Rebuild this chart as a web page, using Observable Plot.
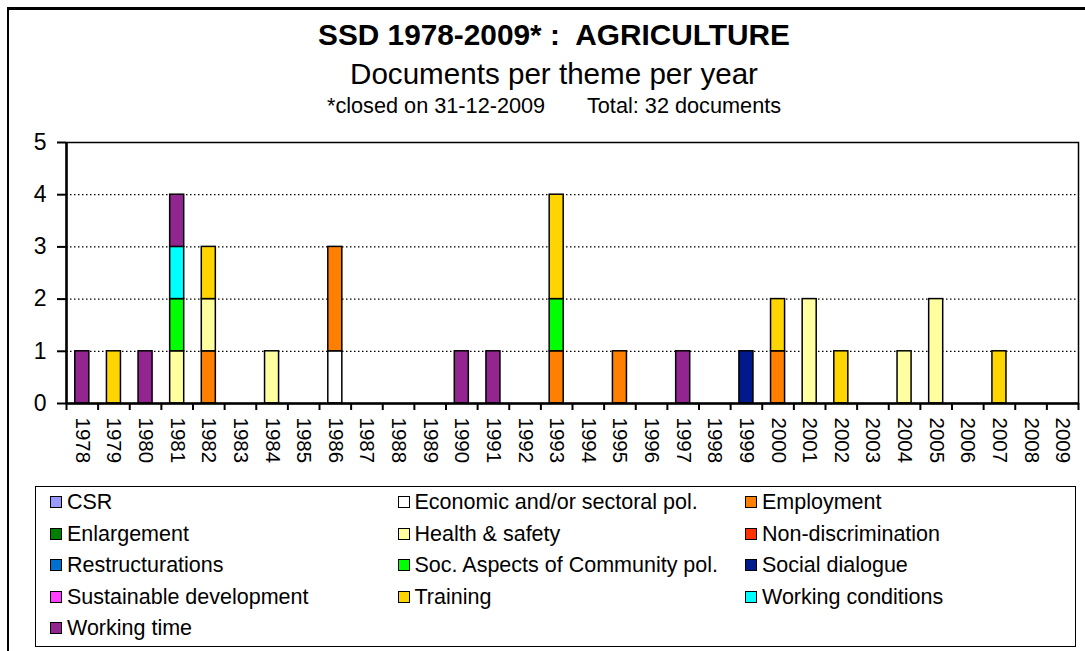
<!DOCTYPE html>
<html>
<head>
<meta charset="utf-8">
<script src="https://cdn.jsdelivr.net/npm/d3@7"></script>
<script src="https://cdn.jsdelivr.net/npm/@observablehq/plot@0.6"></script>
<style>
  html, body { margin: 0; padding: 0; background: #fff; }
  #wrap { position: relative; width: 1085px; height: 651px; overflow: hidden; font-family: "Liberation Sans", Arial, sans-serif; color: #000; }
  #outer { position: absolute; left: 7px; top: 7px; width: 1200px; height: 700px; border-left: 2px solid #000; border-top: 3px solid #000; }
  .t { position: absolute; left: 0; width: 1108px; text-align: center; white-space: pre; }
  #title { top: 19px; font-size: 29.8px; font-weight: bold; line-height: 32px; }
  #sub { top: 58px; font-size: 29.6px; line-height: 32px; }
  #note { top: 94px; font-size: 21.7px; line-height: 24px; }
  #chart { position: absolute; left: 0; top: 0; }
  #legend { position: absolute; left: 35px; top: 486px; width: 1039px; height: 159px; border: 1.5px solid #000; }
  .li { position: absolute; font-size: 21.5px; line-height: 24px; white-space: nowrap; }
  .sw { position: absolute; left: -17px; top: 6px; width: 10px; height: 10px; border: 1.3px solid #000; }
  svg g[aria-label="y-axis tick"] path, svg g[aria-label="x-axis tick"] path { stroke-width: 2; }
</style>
</head>
<body>
<div id="wrap">
  <div id="outer"></div>
  <div id="chart"></div>
  <div class="t" id="title">SSD 1978-2009* :  AGRICULTURE</div>
  <div class="t" id="sub">Documents per theme per year</div>
  <div class="t" id="note">*closed on 31-12-2009       Total: 32 documents</div>
  <div id="legend"></div>
</div>
<script>
// Categories (years on the x axis)
const years = [1978, 1979, 1980, 1981, 1982, 1983, 1984, 1985, 1986, 1987, 1988, 1989, 1990, 1991, 1992, 1993,
               1994, 1995, 1996, 1997, 1998, 1999, 2000, 2001, 2002, 2003, 2004, 2005, 2006, 2007, 2008, 2009];
const yearBounds = [1978, 1979, 1980, 1981, 1982, 1983, 1984, 1985, 1986, 1987, 1988, 1989, 1990, 1991, 1992, 1993,
               1994, 1995, 1996, 1997, 1998, 1999, 2000, 2001, 2002, 2003, 2004, 2005, 2006, 2007, 2008, 2009, 2010];

// Themes (series) and their colours
const themes = ["CSR", "Economic and/or sectoral pol.", "Employment", "Enlargement", "Health & safety",
                "Non-discrimination", "Restructurations", "Soc. Aspects of Community pol.", "Social dialogue",
                "Sustainable development", "Training", "Working conditions", "Working time"];
const themeColors = ["#9999FF", "#FFFFFF", "#FF8000", "#008000", "#FFFFA0",
                     "#FF3300", "#0070D0", "#00FF00", "#001A8C",
                     "#FF40FF", "#FFD500", "#00FFFF", "#932590"];

// Document counts: year, theme, count (stacked in theme order)
const docYear  = [1978, 1979, 1980, 1981, 1981, 1981, 1981, 1982, 1982, 1982, 1984, 1986, 1986, 1990, 1991,
                  1993, 1993, 1993, 1995, 1997, 1999, 2000, 2000, 2001, 2002, 2004, 2005, 2007];
const docTheme = ["Working time", "Training", "Working time",
                  "Health & safety", "Soc. Aspects of Community pol.", "Working conditions", "Working time",
                  "Employment", "Health & safety", "Training",
                  "Health & safety",
                  "Economic and/or sectoral pol.", "Employment",
                  "Working time", "Working time",
                  "Employment", "Soc. Aspects of Community pol.", "Training",
                  "Employment", "Working time", "Social dialogue",
                  "Employment", "Training",
                  "Health & safety", "Training", "Health & safety", "Health & safety", "Training"];
const docCount = [1, 1, 1, 1, 1, 1, 1, 1, 1, 1, 1, 1, 2, 1, 1, 1, 1, 2, 1, 1, 1, 1, 1, 2, 1, 1, 2, 1];

const yTicks = [0, 1, 2, 3, 4, 5];
const gridValues = [1, 2, 3, 4];

const data = docYear.map((y, i) => ({year: y, theme: docTheme[i], count: docCount[i]}))
  .sort((a, b) => a.year - b.year || themes.indexOf(a.theme) - themes.indexOf(b.theme));

const chart = Plot.plot({
  width: 1085,
  height: 651,
  marginLeft: 66,
  marginRight: 7,
  marginTop: 142,
  marginBottom: 248,
  style: {fontFamily: "'Liberation Sans', Arial, sans-serif", fontSize: "23px", color: "#000", background: "transparent", overflow: "visible"},
  x: {domain: [1978, 2010], ticks: yearBounds, tickFormat: () => "", tickSize: 7, label: null},
  y: {domain: [0, 5], ticks: yTicks, tickFormat: d3.format("d"), tickSize: 9, tickPadding: 11, label: null},
  color: {domain: themes, range: themeColors},
  marks: [
    Plot.ruleY(gridValues, {y: d => d, stroke: "#000", strokeWidth: 1.3, strokeDasharray: "1.5,2.5"}),
    Plot.rectY(data, {x: "year", interval: 1, y: "count", fill: "theme", stroke: "#000", strokeWidth: 1.5, insetLeft: 8.8, insetRight: 8.8}),
    Plot.frame({stroke: "#000", strokeWidth: 1.5}),
    Plot.ruleX([1978], {stroke: "#000", strokeWidth: 2.5}),
    Plot.ruleY([0], {stroke: "#000", strokeWidth: 2.5}),
    Plot.text(years, {x: d => d + 0.5, y: 0, text: d => String(d), rotate: 90, textAnchor: "start", dy: 14, fontSize: 20.5})
  ]
});
document.getElementById("chart").appendChild(chart);

// Legend (3 columns, row-major)
const legend = document.getElementById("legend");
themes.forEach((t, i) => {
  const col = i % 3, row = Math.floor(i / 3);
  const item = document.createElement("div");
  item.className = "li";
  item.style.left = (31 + col * 347.5) + "px";
  item.style.top = (3 + row * 31.5) + "px";
  const sw = document.createElement("span");
  sw.className = "sw";
  sw.style.background = themeColors[i];
  item.appendChild(sw);
  item.appendChild(document.createTextNode(t));
  legend.appendChild(item);
});
</script>
</body>
</html>
